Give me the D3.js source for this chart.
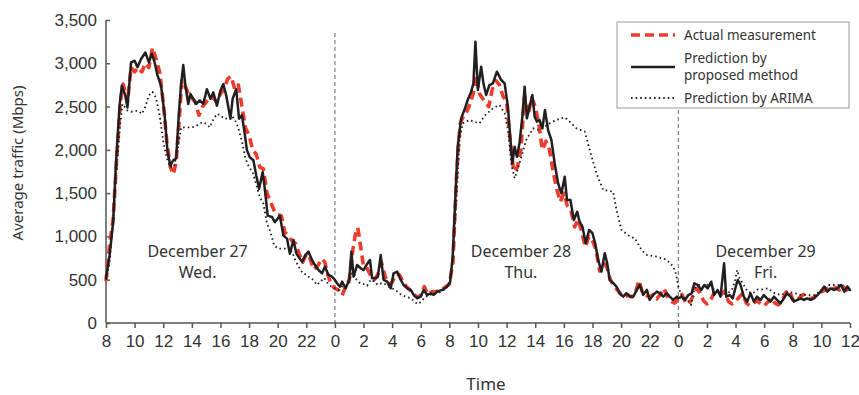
<!DOCTYPE html>
<html>
<head>
<meta charset="utf-8">
<script src="https://cdn.jsdelivr.net/npm/d3@7"></script>
<style>
  body { margin: 0; background: #fff; }
  svg { font-family: 'Noto Sans', sans-serif; }
  .axis path, .axis line { stroke: #555; stroke-width: 1.5; }
  .axis text { fill: #333; font-size: 17px; }
</style>
</head>
<body>
<svg width="859" height="395"></svg>
<script>
// hours counted from 0:00 on December 27
const hourTicks = d3.range(8, 61, 2);
const yTicks = [0, 500, 1000, 1500, 2000, 2500, 3000, 3500];
const dayBreaks = [24, 48];

const dayLabels = [
  { hour: 14.4, lines: ['December 27', 'Wed.'] },
  { hour: 37.0, lines: ['December 28', 'Thu.'] },
  { hour: 54.1, lines: ['December 29', 'Fri.'] }
];

const legendItems = [
  { key: 'actual', lines: ['Actual measurement'] },
  { key: 'proposed', lines: ['Prediction by', 'proposed method'] },
  { key: 'arima', lines: ['Prediction by ARIMA'] }
];

// Actual measurement (Mbps)
const actual = [
  [8,480],[8.25,900],[8.5,1200],[8.75,1900],[9,2550],[9.2,2760],[9.5,2550],[9.75,2950],[10,2900],[10.25,2950],
  [10.5,2900],[10.75,3000],[11,2950],[11.25,3180],[11.5,3050],[11.75,2900],[12,2550],[12.25,2100],[12.5,1800],[12.7,1720],
  [12.9,1850],[13.1,2300],[13.3,2800],[13.5,2750],[13.75,2650],[14,2600],[14.25,2550],[14.5,2400],[14.75,2500],[15,2550],
  [15.25,2600],[15.5,2600],[15.75,2550],[16,2650],[16.25,2700],[16.5,2820],[16.75,2850],[17,2700],[17.25,2750],[17.5,2500],
  [17.75,2250],[18,2170],[18.25,2000],[18.5,1950],[18.75,1800],[19,1780],[19.25,1500],[19.5,1400],[19.75,1300],[20,1250],
  [20.25,1240],[20.5,1050],[20.75,1000],[21,950],[21.25,920],[21.5,800],[21.75,700],[22,800],[22.25,750],[22.5,620],
  [22.75,650],[23.1,740],[23.3,700],[23.5,560],[23.75,440],[24,400],[24.25,380],[24.5,320],[24.75,420],[25,500],
  [25.25,840],[25.45,1050],[25.6,1100],[25.8,880],[26,650],[26.25,630],[26.5,550],[26.75,500],[27,560],[27.25,700],
  [27.5,540],[27.75,450],[28,470],[28.25,560],[28.5,560],[28.75,480],[29,420],[29.25,380],[29.5,330],[29.75,300],
  [30,320],[30.25,420],[30.5,330],[30.75,360],[31,360],[31.25,370],[31.5,390],[31.75,420],[32,450],[32.25,700],
  [32.5,1700],[32.75,2300],[33,2400],[33.25,2450],[33.5,2560],[33.75,2700],[33.9,2860],[34.1,2650],[34.25,2610],[34.5,2550],
  [34.75,2500],[35,2700],[35.25,2800],[35.5,2750],[35.75,2620],[36,2550],[36.25,2100],[36.5,1750],[36.75,1800],[37,2000],
  [37.25,2620],[37.5,2400],[37.75,2600],[38,2500],[38.25,2300],[38.5,2000],[38.75,2100],[39,2000],[39.25,1750],[39.5,1550],
  [39.75,1400],[40,1500],[40.25,1350],[40.5,1300],[40.75,1110],[41,1200],[41.25,1050],[41.5,880],[41.75,1000],[42,950],
  [42.25,850],[42.5,600],[42.75,700],[43,650],[43.25,500],[43.5,430],[43.75,380],[44,330],[44.25,300],[44.5,320],
  [44.75,300],[45,350],[45.25,490],[45.5,350],[45.75,320],[46,300],[46.25,330],[46.5,280],[46.75,330],[47,400],
  [47.25,300],[47.5,250],[47.75,230],[48,280],[48.25,330],[48.5,240],[48.75,220],[49,300],[49.25,400],[49.5,350],
  [49.75,260],[50,220],[50.25,260],[50.5,350],[50.75,360],[51,330],[51.25,370],[51.5,250],[51.75,220],[52,250],
  [52.25,300],[52.5,340],[52.75,230],[53,200],[53.25,230],[53.5,260],[53.75,220],[54,200],[54.25,240],[54.5,290],
  [54.75,230],[55,210],[55.25,250],[55.5,350],[55.75,380],[56,270],[56.25,250],[56.5,300],[56.75,330],[57,290],
  [57.25,280],[57.5,300],[57.75,340],[58,360],[58.25,380],[58.5,410],[58.75,390],[59,410],[59.25,380],[59.5,430],
  [59.75,380],[60,400]
];

// Prediction by proposed method (Mbps)
const proposed = [
  [8,520],[8.25,780],[8.5,1165],[8.7,1860],[8.95,2510],[9.1,2740],[9.35,2630],[9.5,2490],[9.75,3010],[10,3030],
  [10.2,2955],[10.45,3050],[10.75,3125],[11,3010],[11.2,3110],[11.4,3010],[11.6,2860],[11.85,2740],[12.1,2400],[12.3,1975],
  [12.5,1820],[12.7,1880],[12.9,1900],[13.1,2435],[13.25,2760],[13.4,2980],[13.55,2740],[13.75,2530],[13.9,2645],[14.1,2590],
  [14.3,2530],[14.55,2570],[14.8,2530],[15.05,2700],[15.3,2590],[15.5,2665],[15.75,2510],[16,2685],[16.2,2760],[16.4,2630],
  [16.7,2360],[16.85,2590],[17.1,2700],[17.3,2360],[17.5,2400],[17.65,2240],[17.85,1995],[18.05,1915],[18.3,1880],[18.5,1705],
  [18.7,1550],[18.95,1745],[19.1,1550],[19.3,1240],[19.6,1225],[19.8,1165],[20.15,1240],[20.4,1010],[20.65,975],[20.85,800],
  [21.1,958],[21.3,805],[21.45,766],[21.7,709],[21.95,785],[22.15,824],[22.4,728],[22.6,670],[22.85,612],[23.1,574],
  [23.3,651],[23.55,555],[23.8,535],[24,497],[24.15,459],[24.35,420],[24.5,478],[24.75,401],[25,497],[25.15,824],
  [25.3,535],[25.55,670],[25.8,632],[26,612],[26.2,670],[26.45,728],[26.6,516],[26.85,516],[27,535],[27.2,785],
  [27.4,497],[27.65,478],[27.9,401],[28.1,574],[28.35,593],[28.6,497],[28.8,439],[29.05,401],[29.3,382],[29.5,324],
  [29.75,286],[30,305],[30.2,382],[30.45,324],[30.7,343],[30.9,324],[31.15,362],[31.5,382],[31.85,420],[32.05,470],
  [32.23,767],[32.42,1459],[32.58,2037],[32.82,2364],[33.05,2460],[33.28,2576],[33.52,2672],[33.68,2768],[33.82,3250],[33.99,2691],
  [34.22,2961],[34.38,2768],[34.57,2634],[34.8,2749],[35.04,2768],[35.32,2903],[35.62,2807],[35.86,2768],[36.09,2499],[36.25,2152],
  [36.4,1844],[36.56,2037],[36.72,1921],[36.9,2075],[37.1,2383],[37.26,2730],[37.42,2364],[37.6,2499],[37.8,2634],[37.96,2383],
  [38.12,2325],[38.3,2345],[38.5,2249],[38.68,2460],[38.9,2229],[39.13,2114],[39.36,1844],[39.6,1613],[39.83,1498],[40.06,1690],
  [40.22,1421],[40.46,1421],[40.7,1190],[40.93,1286],[41.1,1171],[41.3,1113],[41.53,921],[41.77,1075],[42,1037],[42.19,921],
  [42.4,729],[42.63,594],[42.86,806],[43.03,690],[43.2,498],[43.45,460],[43.68,421],[43.9,344],[44.15,305],[44.38,344],
  [44.62,305],[44.85,305],[45.1,382],[45.3,440],[45.55,325],[45.8,382],[46,267],[46.25,325],[46.5,363],[46.7,344],
  [46.95,305],[47.2,344],[47.4,305],[47.65,267],[47.9,305],[48,285],[48.23,304],[48.47,266],[48.7,323],[48.93,343],
  [49.12,458],[49.35,439],[49.6,381],[49.82,439],[50.05,400],[50.3,477],[50.5,323],[50.75,381],[50.95,304],[51.2,689],
  [51.35,304],[51.6,323],[51.8,285],[52.05,439],[52.16,497],[52.35,439],[52.58,304],[52.81,247],[53.05,343],[53.28,247],
  [53.5,304],[53.75,266],[53.98,323],[54.2,285],[54.45,247],[54.68,304],[54.9,266],[55.15,228],[55.38,285],[55.6,343],
  [55.85,304],[56.08,247],[56.32,266],[56.55,285],[56.78,266],[57,285],[57.25,266],[57.48,285],[57.72,323],[57.95,362],
  [58.19,420],[58.42,362],[58.65,400],[58.9,381],[59.12,400],[59.36,439],[59.6,362],[59.82,420],[60,381]
];

// Prediction by ARIMA (Mbps)
const arima = [
  [8,500],[8.25,700],[8.5,1200],[8.75,1800],[9,2300],[9.15,2530],[9.5,2455],[9.75,2440],[10,2450],[10.25,2450],
  [10.5,2415],[10.75,2500],[11,2630],[11.25,2670],[11.5,2600],[11.75,2400],[12,2100],[12.25,1900],[12.5,1800],[12.75,1800],
  [13,2000],[13.25,2260],[13.5,2260],[13.75,2260],[14,2260],[14.25,2270],[14.5,2300],[14.75,2320],[15,2300],[15.25,2260],
  [15.5,2350],[15.75,2415],[16,2400],[16.25,2360],[16.5,2360],[16.75,2400],[17,2350],[17.25,2250],[17.5,2100],[17.75,1900],
  [18,1800],[18.25,1740],[18.5,1600],[18.75,1450],[19,1380],[19.25,1150],[19.5,1050],[19.75,900],[20,860],[20.25,860],
  [20.5,860],[20.75,880],[21,820],[21.25,720],[21.5,640],[21.75,574],[22,560],[22.25,520],[22.5,497],[22.75,440],
  [23,480],[23.25,520],[23.5,460],[23.75,420],[24,400],[24.25,380],[24.5,420],[24.75,430],[25,450],[25.2,640],
  [25.5,500],[25.75,460],[26,450],[26.25,430],[26.5,500],[26.75,480],[27,440],[27.25,460],[27.5,450],[27.75,420],
  [28,400],[28.25,380],[28.5,340],[28.75,320],[29,300],[29.25,290],[29.5,260],[29.75,220],[30,240],[30.25,290],
  [30.5,320],[30.75,330],[31,340],[31.25,350],[31.5,370],[31.75,400],[32,470],[32.25,750],[32.5,1450],[32.7,2100],
  [32.93,2306],[33.4,2345],[34.1,2306],[34.5,2400],[35.04,2480],[35.5,2518],[35.86,2422],[36.1,2229],[36.32,1844],[36.56,1671],
  [36.9,1844],[37.37,2114],[37.84,2249],[38.3,2229],[39,2306],[39.48,2345],[40.06,2376],[40.4,2326],[40.88,2249],[41.46,2210],
  [41.81,1998],[42.28,1729],[42.75,1536],[43.45,1517],[43.68,1305],[44.03,1075],[44.62,998],[44.97,978],[45.43,844],[45.79,786],
  [46.49,767],[47.19,729],[47.65,652],[47.85,560],[48,420],[48.2,323],[48.65,266],[48.9,208],[49.12,400],[49.47,439],
  [49.82,420],[50.17,458],[50.52,381],[51,323],[51.46,343],[51.8,400],[51.97,497],[52.11,612],[52.28,516],[52.5,458],
  [52.86,362],[53.21,343],[53.56,389],[53.9,389],[54.26,400],[54.73,343],[55.2,323],[55.66,362],[56.13,343],[56.6,323],
  [57.07,323],[57.53,323],[58,381],[58.47,439],[58.93,439],[59.4,439],[59.87,420]
];

const styles = {
  actual:   { data: actual,   stroke: '#ec3c2c', width: 3.6, dash: '9,5',  cap: 'butt' },
  proposed: { data: proposed, stroke: '#231f20', width: 2.5, dash: null,   cap: 'round' },
  arima:    { data: arima,    stroke: '#231f20', width: 1.8, dash: '1.6,3', cap: 'butt' }
};

const margin = { top: 20, right: 9, bottom: 72, left: 106 };
const svg = d3.select('svg');
const width = +svg.attr('width') - margin.left - margin.right;
const height = +svg.attr('height') - margin.top - margin.bottom;

const g = svg.append('g').attr('transform', `translate(${margin.left},${margin.top})`);

const x = d3.scaleLinear().domain([8, 60]).range([0, width]);
const y = d3.scaleLinear().domain([0, 3500]).range([height, 0]);

// day separators
g.selectAll('line.day')
  .data(dayBreaks)
  .enter()
  .append('line')
    .attr('class', 'day')
    .attr('x1', d => x(d)).attr('x2', d => x(d))
    .attr('y1', 13).attr('y2', height)
    .attr('stroke', '#666')
    .attr('stroke-width', 1)
    .attr('stroke-dasharray', '4,3');

// axes
g.append('g')
  .attr('class', 'axis')
  .call(d3.axisLeft(y).tickValues(yTicks).tickSize(-4).tickPadding(9).tickFormat(d3.format(',')))
  .call(a => a.select('.domain').attr('d', `M0,${y(3500)}V${height}`));

g.append('g')
  .attr('class', 'axis')
  .attr('transform', `translate(0,${height})`)
  .call(d3.axisBottom(x).tickValues(hourTicks).tickSize(5).tickPadding(7).tickFormat(d => d % 24))
  .call(a => a.select('.domain').attr('d', `M0,0H${width}`));

// series
const line = d3.line().x(d => x(d[0])).y(d => y(d[1]));
['actual', 'proposed', 'arima'].forEach(k => {
  const s = styles[k];
  g.append('path')
    .datum(s.data)
    .attr('fill', 'none')
    .attr('stroke', s.stroke)
    .attr('stroke-width', s.width)
    .attr('stroke-linejoin', 'round')
    .attr('stroke-linecap', s.cap)
    .attr('stroke-dasharray', s.dash)
    .attr('d', line);
});

// day labels
const dl = g.selectAll('text.dayLabel')
  .data(dayLabels)
  .enter()
  .append('text')
    .attr('class', 'dayLabel')
    .attr('text-anchor', 'middle')
    .attr('font-size', 16)
    .attr('fill', '#333');
dl.selectAll('tspan')
  .data(d => d.lines.map(t => ({ t, h: d.hour })))
  .enter()
  .append('tspan')
    .attr('x', d => x(d.h))
    .attr('y', (d, i) => 237 + i * 21)
    .text(d => d.t);

// axis titles
svg.append('text')
  .attr('transform', `translate(23,163) rotate(-90)`)
  .attr('text-anchor', 'middle')
  .attr('font-size', 15)
  .attr('fill', '#333')
  .text('Average traffic (Mbps)');

svg.append('text')
  .attr('x', margin.left + width / 2 + 8)
  .attr('y', 390)
  .attr('text-anchor', 'middle')
  .attr('font-size', 17)
  .attr('fill', '#333')
  .text('Time');

// legend
const lg = svg.append('g').attr('transform', 'translate(617,22)');
lg.append('rect')
  .attr('width', 232).attr('height', 86)
  .attr('fill', '#fff')
  .attr('stroke', '#999')
  .attr('stroke-width', 1);

const rowY = [13, 45, 76];
legendItems.forEach((item, i) => {
  const s = styles[item.key];
  lg.append('line')
    .attr('x1', 14).attr('x2', 58)
    .attr('y1', rowY[i]).attr('y2', rowY[i])
    .attr('stroke', s.stroke)
    .attr('stroke-width', s.width)
    .attr('stroke-dasharray', s.dash);
  const off = item.lines.length === 1 ? 5 : -4;
  item.lines.forEach((ln, j) => {
    lg.append('text')
      .attr('font-size', 13.5)
      .attr('fill', '#333')
      .attr('x', 67)
      .attr('y', rowY[i] + off + j * 17)
      .text(ln);
  });
});
</script>
</body>
</html>
